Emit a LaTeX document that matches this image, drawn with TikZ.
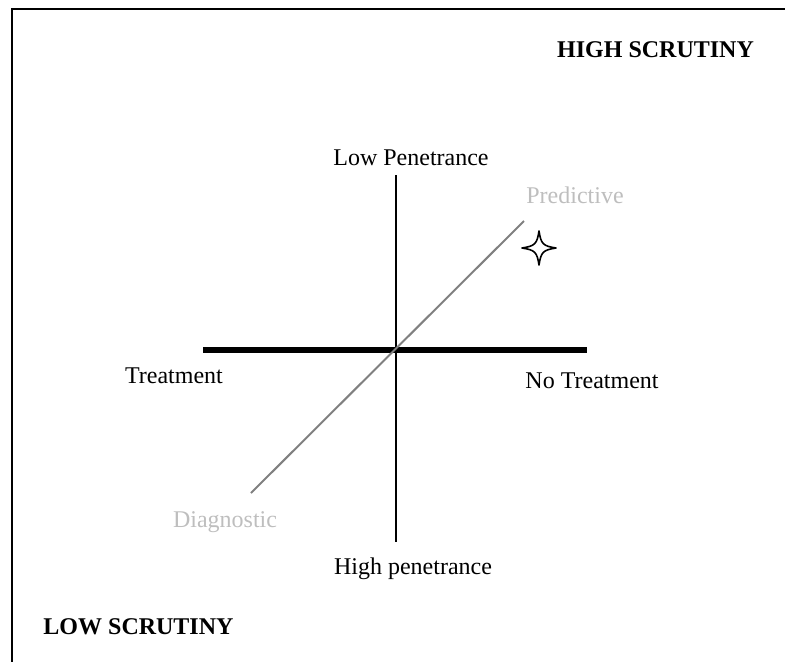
\documentclass[tikz,border=0pt]{standalone}
\usepackage{fontspec}
\setmainfont{Liberation Serif}
\begin{document}
\begin{tikzpicture}[x=1pt,y=-1pt,
  lbl/.style={anchor=base,inner sep=0pt,font=\fontsize{24}{28}\selectfont},
  glbl/.style={lbl,text=lightgrey},
  blbl/.style={lbl,font=\fontsize{24}{28}\selectfont\bfseries},
  frame/.style={line width=2pt,black},
  axisv/.style={line width=2.5pt,black},
  axish/.style={line width=6pt,black},
  diag/.style={line width=2pt,draw=midgrey},
  starline/.style={line width=1.6pt,black,line join=round}]
\definecolor{lightgrey}{RGB}{190,190,190}
\definecolor{midgrey}{RGB}{128,128,128}
\useasboundingbox (0,0) rectangle (785,662);
% frame (top and left edges)
\coordinate (fr) at (785,9);
\coordinate (ftl) at (12,9);
\coordinate (fb) at (12,662);
\draw[frame] (fr) -- (ftl) -- (fb);
% axes
\coordinate (vt) at (396,175);
\coordinate (vb) at (396,542);
\coordinate (hl) at (203,350);
\coordinate (hr) at (587,350);
\coordinate (dl) at (251,493);
\coordinate (du) at (524,221);
\draw[axisv] (vt) -- (vb);
\draw[axish] (hl) -- (hr);
\draw[diag] (dl) -- (du);
% star
\coordinate (st) at (539,248);
\draw[starline] ([shift={(0,-17)}]st)
  .. controls ([shift={(2,-4)}]st) and ([shift={(4,-2)}]st) .. ([shift={(17,0)}]st)
  .. controls ([shift={(4,2)}]st) and ([shift={(2,4)}]st) .. ([shift={(0,17)}]st)
  .. controls ([shift={(-2,4)}]st) and ([shift={(-4,2)}]st) .. ([shift={(-17,0)}]st)
  .. controls ([shift={(-4,-2)}]st) and ([shift={(-2,-4)}]st) .. cycle;
% labels
\node[blbl] (hs) at (655.5,57) {HIGH SCRUTINY};
\node[blbl] (ls) at (138.5,634) {LOW SCRUTINY};
\node[lbl] (lp) at (411,165) {Low Penetrance};
\node[lbl] (hp) at (413,574) {High penetrance};
\node[lbl] (tr) at (174,383) {Treatment};
\node[lbl] (nt) at (592,388) {No Treatment};
\node[glbl] (pr) at (575,203) {Predictive};
\node[glbl] (dg) at (225,527) {Diagnostic};
\end{tikzpicture}
\end{document}
